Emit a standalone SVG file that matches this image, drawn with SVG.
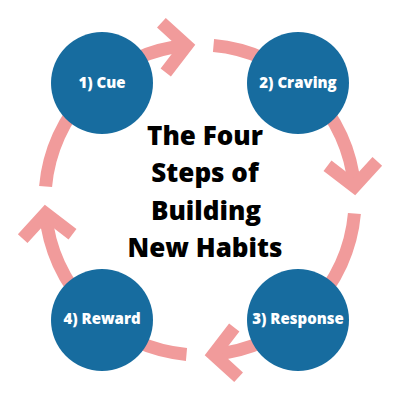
<svg xmlns="http://www.w3.org/2000/svg" width="400" height="400" viewBox="0 0 400 400">
  <style>
    .arc { fill: none; stroke: #f19b9b; stroke-width: 13; stroke-linecap: butt; marker-end: url(#chev); }
    .node { fill: #176c9f; }
    .label { font-family: "Open Sans", "Liberation Sans", sans-serif; font-weight: 800; font-size: 15px; fill: #ffffff; text-anchor: middle; }
    .title { font-family: "Open Sans", "Liberation Sans", sans-serif; font-weight: 800; font-size: 26px; fill: #000000; text-anchor: middle; }
  </style>
  <defs>
    <marker id="chev" markerUnits="userSpaceOnUse" orient="auto" viewBox="-40 -40 60 80" markerWidth="60" markerHeight="80" refX="0" refY="0" overflow="visible">
      <path d="M -23 -25 L 0 0 L -23 25" fill="none" stroke="#f19b9b" stroke-width="13" stroke-linejoin="miter" stroke-miterlimit="10"/>
    </marker>
  </defs>
  <rect width="400" height="400" fill="#ffffff"/>
  <g id="connectors">
    <path class="arc" d="M 45.59 186.49 A 155 155 0 0 1 186.49 45.59"/>
    <path class="arc" d="M 213.51 45.59 A 155 155 0 0 1 354.41 186.49"/>
    <path class="arc" d="M 354.41 213.51 A 155 155 0 0 1 213.51 354.41"/>
    <path class="arc" d="M 186.49 354.41 A 155 155 0 0 1 45.59 213.51"/>
  </g>
  <g id="cue">
    <circle class="node" cx="102" cy="83" r="51"/>
    <text class="label" x="102" y="88">1) Cue</text>
  </g>
  <g id="craving">
    <circle class="node" cx="298" cy="83" r="51"/>
    <text class="label" x="298" y="88">2) Craving</text>
  </g>
  <g id="response">
    <circle class="node" cx="298" cy="320" r="51"/>
    <text class="label" x="298" y="324">3) Response</text>
  </g>
  <g id="reward">
    <circle class="node" cx="102" cy="320" r="51"/>
    <text class="label" x="102" y="324">4) Reward</text>
  </g>
  <g id="title">
    <text class="title" x="205" y="145">The Four</text>
    <text class="title" x="205" y="182">Steps of</text>
    <text class="title" x="206" y="220">Building</text>
    <text class="title" x="205" y="257">New Habits</text>
  </g>
</svg>
